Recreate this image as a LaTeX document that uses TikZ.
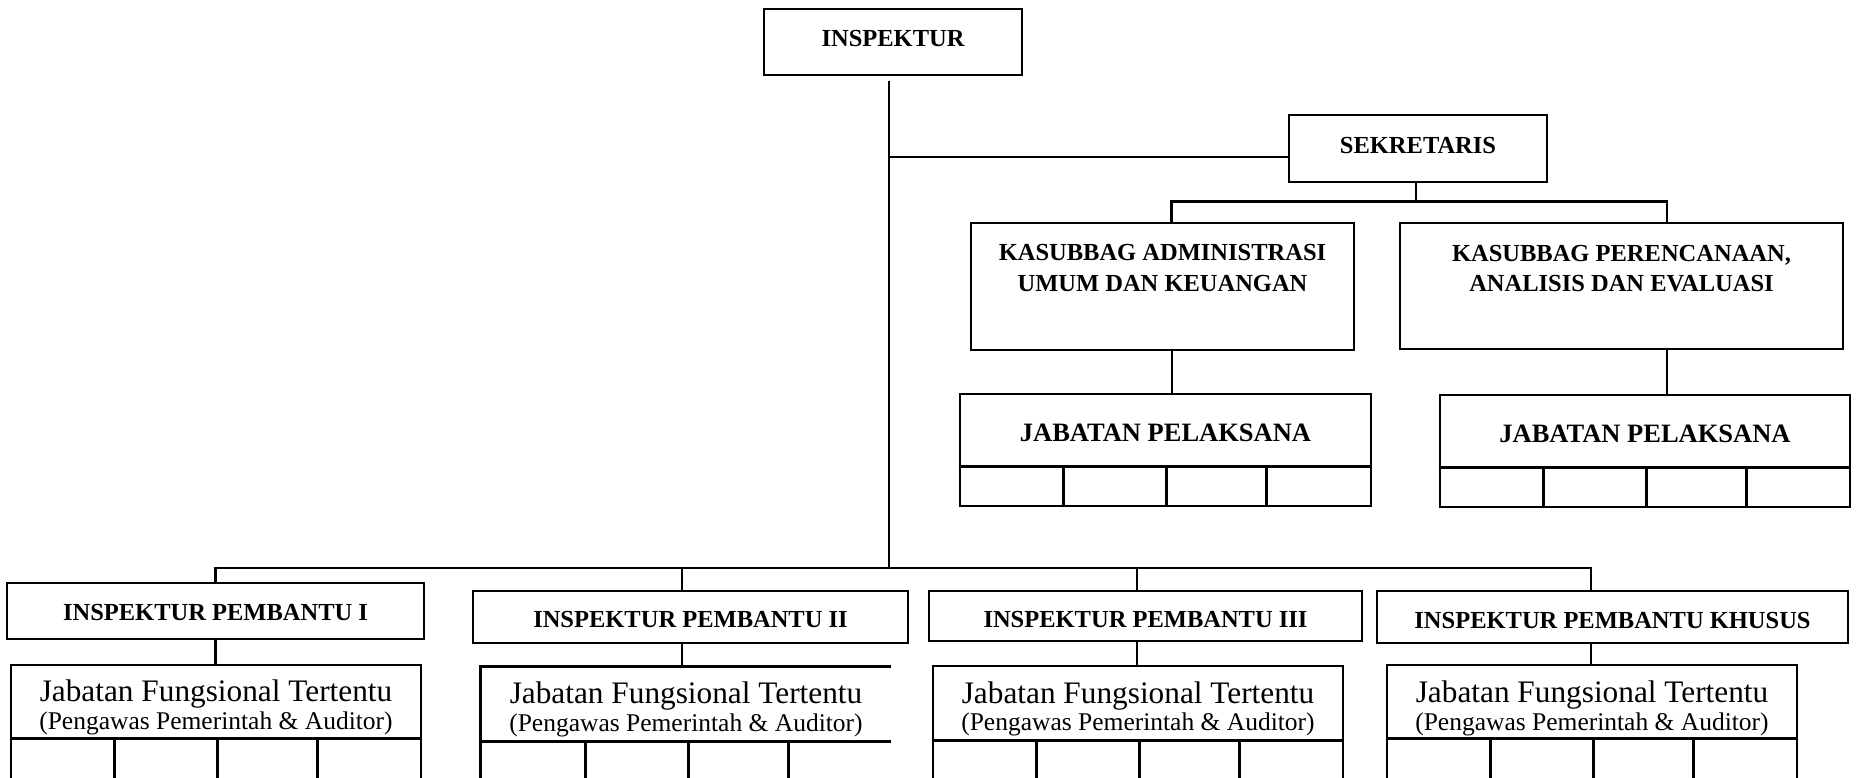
\documentclass[tikz,border=0pt]{standalone}
\usepackage{fontspec}
\setmainfont{Liberation Serif}
\newcommand{\orgcells}[2]{%
  \draw[frame] ([yshift=-#2 pt]#1.north west) -- ([yshift=-#2 pt]#1.north east);
  \foreach \dx in {105,208,308}
    \draw[frame] ([xshift=\dx pt,yshift=-#2 pt]#1.north west) -- ([xshift=\dx pt]#1.south west);
}
\begin{document}
\begin{tikzpicture}[x=1pt,y=-1pt,
  frame/.style={line width=2.8pt},
  box/.style={draw, line width=2.8pt, rectangle, inner sep=0pt},
  lnk/.style={line width=2.9pt},
  hd/.style={font=\bfseries\fontsize{24.5}{30}\selectfont, inner sep=0pt, anchor=base},
  jp/.style={font=\bfseries\fontsize{26.5}{32}\selectfont, inner sep=0pt, anchor=base},
  jf/.style={font=\fontsize{31.3}{36}\selectfont, inner sep=0pt, anchor=base},
  js/.style={font=\fontsize{25.5}{30}\selectfont, inner sep=0pt, anchor=base}]
\useasboundingbox (0,0) rectangle (1858,777);
\clip (0,0) rectangle (1858,777);
\fill[white] (0,0) rectangle (1858,777);

% top boxes
\node[box, minimum width=258pt, minimum height=66pt] (insp) at (893,42) {};
\node[hd] (tinsp) at (893,46) {INSPEKTUR};
\node[box, minimum width=258pt, minimum height=67pt] (sek) at (1418,148.5) {};
\node[hd] (tsek) at (1418,153) {SEKRETARIS};
\node[box, minimum width=383pt, minimum height=127pt] (kadm) at (1162.5,286.5) {};
\node[hd] (tkadma) at (1162.5,260) {KASUBBAG ADMINISTRASI};
\node[hd] (tkadmb) at (1162.5,291.5) {UMUM DAN KEUANGAN};
\node[box, minimum width=443pt, minimum height=126pt] (kper) at (1621.5,286) {};
\node[hd] (tkpera) at (1621.5,261) {KASUBBAG PERENCANAAN,};
\node[hd] (tkperb) at (1621.5,291) {ANALISIS DAN EVALUASI};

\node[box, minimum width=411pt, minimum height=112pt] (jp1) at (1165.5,450) {};
\node[jp] (tjp1) at (1165.5,441) {JABATAN PELAKSANA};
\orgcells{jp1}{74}
\node[box, minimum width=410pt, minimum height=112pt] (jp2) at (1645,451) {};
\node[jp] (tjp2) at (1645,442) {JABATAN PELAKSANA};
\orgcells{jp2}{74}

% bottom boxes
\node[box, minimum width=417pt, minimum height=56pt] (ip1) at (215.5,611) {};
\node[hd] (tip1) at (215.5,620) {INSPEKTUR PEMBANTU I};
\node[box, minimum width=435pt, minimum height=52pt] (ip2) at (690.5,617) {};
\node[hd] (tip2) at (690.5,627) {INSPEKTUR PEMBANTU II};
\node[box, minimum width=433pt, minimum height=50pt] (ip3) at (1145.5,616) {};
\node[hd] (tip3) at (1145.5,627) {INSPEKTUR PEMBANTU III};
\node[box, minimum width=471pt, minimum height=52pt] (ipk) at (1612.5,617) {};
\node[hd] (tipk) at (1612.5,628) {INSPEKTUR PEMBANTU KHUSUS};

\node[box, minimum width=410pt, minimum height=150pt] (jft1) at (216,740) {};
\node[jf] (tjft1a) at (216,701) {Jabatan Fungsional Tertentu};
\node[js] (tjft1b) at (216,729) {(Pengawas Pemerintah \& Auditor)};
\orgcells{jft1}{75}

\node[inner sep=0pt, minimum width=410pt, minimum height=150pt] (jft2) at (686,742) {};
\draw[frame] (jft2.north east) -- (jft2.north west) -- (jft2.south west);
\node[jf] (tjft2a) at (686,703) {Jabatan Fungsional Tertentu};
\node[js] (tjft2b) at (686,731) {(Pengawas Pemerintah \& Auditor)};
\orgcells{jft2}{75}

\node[box, minimum width=410pt, minimum height=150pt] (jft3) at (1138,741) {};
\node[jf] (tjft3a) at (1138,703) {Jabatan Fungsional Tertentu};
\node[js] (tjft3b) at (1138,730) {(Pengawas Pemerintah \& Auditor)};
\orgcells{jft3}{76}

\node[box, minimum width=410pt, minimum height=150pt] (jft4) at (1592,740) {};
\node[jf] (tjft4a) at (1592,702) {Jabatan Fungsional Tertentu};
\node[js] (tjft4b) at (1592,730) {(Pengawas Pemerintah \& Auditor)};
\orgcells{jft4}{75}

% connectors
\coordinate (tap) at (889,157);
\coordinate (bus) at (889,568);
\draw[lnk] ([xshift=-4pt,yshift=-5pt]insp.south) -- (bus);
\draw[lnk] (tap) -- (tap -| sek.west);
\draw[lnk] ([xshift=-2pt]sek.south) -- ++(0,18) coordinate (sj);
\draw[lnk] ([xshift=9pt]kadm.north) |- (sj) -| ([xshift=45.5pt]kper.north);
\draw[lnk] ([xshift=9.5pt]kadm.south) -- ([xshift=9.5pt]kadm.south |- jp1.north);
\draw[lnk] ([xshift=45.5pt]kper.south) -- ([xshift=45.5pt]kper.south |- jp2.north);

\draw[lnk] (ip1.north) |- (bus) -| ([xshift=-21.5pt]ipk.north);
\draw[lnk] ([xshift=-8.5pt]ip2.north |- bus) -- ([xshift=-8.5pt]ip2.north);
\draw[lnk] ([xshift=-8.5pt]ip3.north |- bus) -- ([xshift=-8.5pt]ip3.north);

\draw[lnk] (ip1.south) -- (ip1.south |- jft1.north);
\draw[lnk] ([xshift=-8.5pt]ip2.south) -- ([xshift=-8.5pt]ip2.south |- jft2.north);
\draw[lnk] ([xshift=-8.5pt]ip3.south) -- ([xshift=-8.5pt]ip3.south |- jft3.north);
\draw[lnk] ([xshift=-21.5pt]ipk.south) -- ([xshift=-21.5pt]ipk.south |- jft4.north);
\end{tikzpicture}
\end{document}
